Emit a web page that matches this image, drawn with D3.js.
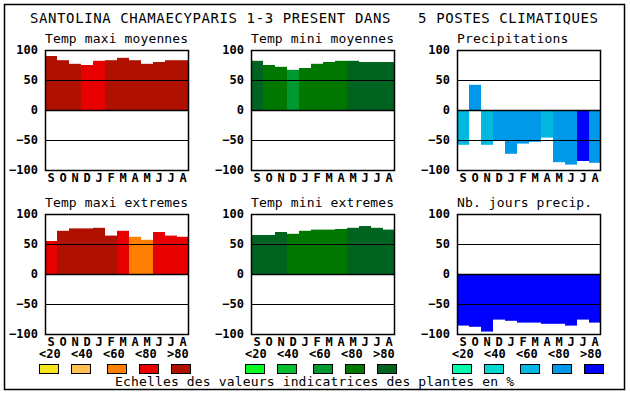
<!DOCTYPE html>
<html>
<head>
<meta charset="utf-8">
<script src="https://cdn.jsdelivr.net/npm/d3@7"></script>
<style>
  body { margin: 0; background: #fff; }
  svg { display: block; }
  text { font-family: "DejaVu Sans Mono", "Liberation Mono", monospace; }
</style>
</head>
<body>
<div id="chart"></div>
<script>
const months = ["S","O","N","D","J","F","M","A","M","J","J","A"];
const classLabels = ["<20","<40","<60","<80",">80"];

// colour scales (5 classes each)
const redColors = ["#f5e61e","#ffc050","#ff8000","#e80000","#b01000"];
const greenColors = ["#00ff20","#00c030","#009830","#007800","#006420"];
const blueColors = ["#00ffb0","#00d8d0","#00b8e0","#0098e8","#0000ff"];

// values (percent), and colour class per month
const maxiMoy = [90,83,77,75,82,83,87,83,77,80,83,83];
const maxiMoyCls = [4,4,4,3,3,4,4,4,4,4,4,4];
const miniMoy = [82,75,72,67,70,77,80,82,82,80,80,80];
const miniMoyCls = [4,3,3,2,3,3,3,3,4,4,4,4];
const precip = [-58,42,-58,-51,-73,-56,-53,-46,-87,-91,-85,-88];
const precipCls = [2,3,2,3,3,3,3,2,3,3,4,3];
const maxiExt = [55,72,76,76,77,64,72,62,57,70,64,62];
const maxiExtCls = [3,4,4,4,4,4,3,2,2,3,3,3];
const miniExt = [65,65,70,67,72,74,74,75,77,80,77,74];
const miniExtCls = [4,4,4,3,3,3,3,3,4,4,4,4];
const joursPrecip = [-86,-88,-96,-76,-78,-81,-81,-83,-83,-86,-76,-81];
const joursPrecipCls = [4,4,4,4,4,4,4,4,4,4,4,4];

const width = 630;
const height = 394;

const panels = [
  {title: "Temp maxi moyennes", vals: maxiMoy, cls: maxiMoyCls, colors: redColors, x: 45, y: 50},
  {title: "Temp mini moyennes", vals: miniMoy, cls: miniMoyCls, colors: greenColors, x: 251, y: 50},
  {title: "Precipitations", vals: precip, cls: precipCls, colors: blueColors, x: 457, y: 50},
  {title: "Temp maxi extremes", vals: maxiExt, cls: maxiExtCls, colors: redColors, x: 45, y: 214},
  {title: "Temp mini extremes", vals: miniExt, cls: miniExtCls, colors: greenColors, x: 251, y: 214},
  {title: "Nb. jours precip.", vals: joursPrecip, cls: joursPrecipCls, colors: blueColors, x: 457, y: 214}
];
const pw = 144, ph = 120;

let svg = d3.select("#chart").append("svg")
  .attr("width", width)
  .attr("height", height)
  .attr("viewBox", [0, 0, width, height]);

// outer frame
svg.append("rect")
  .attr("x", 4.5).attr("y", 4.5)
  .attr("width", 620).attr("height", 385)
  .attr("fill", "none").attr("stroke", "#000").attr("stroke-width", 1.5);

svg.append("text")
  .attr("x", 314).attr("y", 23)
  .attr("text-anchor", "middle")
  .attr("font-size", 14)
  .attr("textLength", 568).attr("lengthAdjust", "spacing")
  .style("white-space", "pre")
  .text("SANTOLINA CHAMAECYPARIS 1-3 PRESENT DANS   5 POSTES CLIMATIQUES");

panels.forEach(p => {
  const x = d3.scaleBand(months.map((m, i) => i), [p.x, p.x + pw]);
  const y = d3.scaleLinear([-100, 100], [p.y + ph, p.y]);
  let g = svg.append("g");

  g.append("text")
    .attr("x", p.x).attr("y", p.y - 7)
    .attr("font-size", 13)
    .attr("textLength", p.title.length * 7.95).attr("lengthAdjust", "spacing")
    .text(p.title);

  // plot background
  g.append("rect")
    .attr("x", p.x).attr("y", p.y)
    .attr("width", pw).attr("height", ph)
    .attr("fill", "#fff");

  // bars
  g.selectAll(".bar")
    .data(p.vals)
    .join("rect")
    .attr("x", (d, i) => x(i))
    .attr("width", x.bandwidth())
    .attr("y", d => y(Math.max(0, d)))
    .attr("height", d => Math.abs(y(d) - y(0)))
    .attr("fill", (d, i) => p.colors[p.cls[i]]);

  // reference lines at 50, 0, -50
  g.selectAll(".ref")
    .data([50, 0, -50])
    .join("line")
    .attr("x1", p.x).attr("x2", p.x + pw)
    .attr("y1", d => Math.round(y(d)) + 0.5)
    .attr("y2", d => Math.round(y(d)) + 0.5)
    .attr("stroke", "#000")
    .attr("stroke-width", d => d === 0 ? 1.6 : 1.2);

  // frame of the plot
  g.append("rect")
    .attr("x", p.x + 0.5).attr("y", p.y + 0.5)
    .attr("width", pw - 1).attr("height", ph)
    .attr("fill", "none").attr("stroke", "#000").attr("stroke-width", 1.5);

  // y axis labels
  g.append("g")
    .attr("transform", `translate(${p.x - 7},0)`)
    .call(d3.axisLeft(y).tickValues([100, 50, 0, -50, -100]).tickSize(0).tickPadding(0))
    .call(g => g.select(".domain").remove())
    .call(g => g.selectAll("text")
      .attr("font-family", "'DejaVu Sans Mono', monospace")
      .attr("font-size", 12).attr("font-weight", "bold").attr("fill", "#000"));

  // month labels
  g.append("g")
    .attr("transform", `translate(0,${p.y + ph + 3})`)
    .call(d3.axisBottom(x).tickFormat(i => months[i]).tickSize(0).tickPadding(0))
    .call(g => g.select(".domain").remove())
    .call(g => g.selectAll("text")
      .attr("font-family", "'DejaVu Sans Mono', monospace")
      .attr("font-size", 12).attr("font-weight", "bold").attr("fill", "#000"));
});

// legends
const legendGroups = [
  {colors: redColors, x: 39},
  {colors: greenColors, x: 245},
  {colors: blueColors, x: 452}
];
const boxOffsets = [0, 32, 68, 100, 132];
legendGroups.forEach(lg => {
  let g = svg.append("g");
  g.selectAll(".lab")
    .data(classLabels)
    .join("text")
    .attr("x", (d, i) => lg.x + i * 32)
    .attr("y", 358)
    .attr("font-size", 12).attr("font-weight", "bold")
    .text(d => d);
  g.selectAll(".box")
    .data(lg.colors)
    .join("rect")
    .attr("x", (d, i) => lg.x + boxOffsets[i] + 0.5)
    .attr("y", 364.5)
    .attr("width", 19).attr("height", 9)
    .attr("fill", d => d)
    .attr("stroke", "#000").attr("stroke-width", 1);
});

svg.append("text")
  .attr("x", 115).attr("y", 386)
  .attr("font-size", 13)
  .attr("textLength", 399).attr("lengthAdjust", "spacing")
  .text("Echelles des valeurs indicatrices des plantes en %");
</script>
</body>
</html>
